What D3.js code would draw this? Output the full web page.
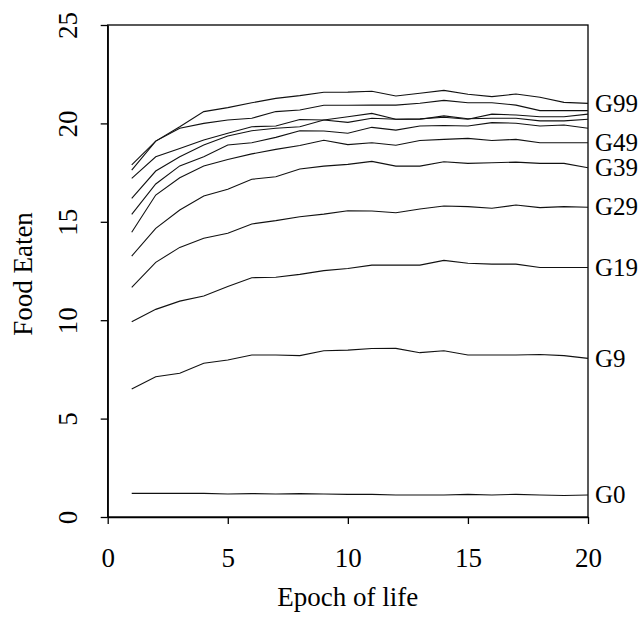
<!DOCTYPE html>
<html>
<head>
<meta charset="utf-8">
<script src="https://cdn.jsdelivr.net/npm/d3@7"></script>
<style>
  body { margin: 0; background: #fff; }
  text { font-family: "Liberation Serif", "DejaVu Serif", serif; fill: #000; }
</style>
</head>
<body>
<div id="chart"></div>
<script>
// epochs 1..20
var epochs = d3.range(1, 21);

var g0  = [1.2, 1.2, 1.2, 1.2, 1.17, 1.19, 1.17, 1.19, 1.17, 1.15, 1.15, 1.12, 1.12, 1.12, 1.15, 1.12, 1.15, 1.12, 1.09, 1.12];
var g9  = [6.5, 7.13, 7.3, 7.81, 7.98, 8.23, 8.23, 8.2, 8.45, 8.48, 8.56, 8.57, 8.35, 8.45, 8.23, 8.23, 8.23, 8.26, 8.2, 8.06];
var g19 = [9.92, 10.55, 10.97, 11.23, 11.71, 12.16, 12.18, 12.33, 12.52, 12.63, 12.8, 12.8, 12.8, 13.04, 12.89, 12.85, 12.85, 12.68, 12.68, 12.68];
var g29 = [11.67, 12.94, 13.7, 14.16, 14.42, 14.89, 15.06, 15.26, 15.39, 15.56, 15.55, 15.46, 15.65, 15.8, 15.77, 15.69, 15.85, 15.72, 15.77, 15.74];
var g39 = [13.26, 14.67, 15.6, 16.31, 16.65, 17.16, 17.29, 17.68, 17.83, 17.92, 18.07, 17.83, 17.83, 18.05, 17.97, 18.0, 18.03, 17.97, 17.97, 17.75];
var g49 = [14.47, 16.36, 17.24, 17.84, 18.17, 18.45, 18.68, 18.88, 19.14, 18.92, 19.02, 18.89, 19.13, 19.19, 19.24, 19.13, 19.19, 19.02, 19.02, 19.02];
var g59 = [15.38, 16.92, 17.84, 18.31, 18.9, 19.02, 19.29, 19.63, 19.61, 19.5, 19.8, 19.66, 19.87, 19.89, 19.87, 20.04, 20.01, 19.87, 19.92, 19.75];
var g69 = [16.19, 17.58, 18.31, 18.9, 19.36, 19.63, 19.75, 19.83, 20.17, 20.34, 20.51, 20.21, 20.21, 20.38, 20.24, 20.26, 20.26, 20.13, 20.13, 20.21];
var g79 = [17.21, 18.3, 18.73, 19.16, 19.5, 19.83, 19.87, 20.2, 20.17, 20.05, 20.26, 20.21, 20.23, 20.31, 20.21, 20.47, 20.43, 20.34, 20.34, 20.47];
var g89 = [17.63, 19.1, 19.75, 20.0, 20.17, 20.26, 20.6, 20.68, 20.92, 20.92, 20.93, 20.93, 21.02, 21.17, 21.05, 21.05, 20.93, 20.65, 20.65, 20.65];
var g99 = [17.89, 19.1, 19.83, 20.6, 20.8, 21.05, 21.27, 21.41, 21.58, 21.59, 21.63, 21.39, 21.53, 21.68, 21.48, 21.36, 21.49, 21.33, 21.07, 21.02];

var seriesNames = ["G0", "G9", "G19", "G29", "G39", "G49", "G59", "G69", "G79", "G89", "G99"];
var seriesValues = [g0, g9, g19, g29, g39, g49, g59, g69, g79, g89, g99];
var labelled = ["G0", "G9", "G19", "G29", "G39", "G49", "G99"];

var xTicks = [0, 5, 10, 15, 20];
var yTicks = [0, 5, 10, 15, 20, 25];

// set the dimensions and margins of the graph
var margin = {top: 25, right: 55, bottom: 100, left: 107.7},
    width = 643 - margin.left - margin.right,
    height = 617 - margin.top - margin.bottom;

var svg = d3.select("#chart")
  .append("svg")
  .attr("width", 643)
  .attr("height", 617)
  .append("g")
  .attr("transform", "translate(" + margin.left + "," + margin.top + ")");

var x = d3.scaleLinear().domain([0, 20]).range([0, width]);
var y = d3.scaleLinear().domain([0, 25]).range([height, 0]);

// box
svg.append("rect")
  .attr("x", 0).attr("y", 0)
  .attr("width", width).attr("height", height)
  .attr("fill", "none")
  .attr("stroke", "#000")
  .attr("stroke-width", 1.3);

// X axis
var xAxis = svg.append("g")
  .attr("transform", "translate(0," + height + ")")
  .call(d3.axisBottom(x).tickValues(xTicks).tickSize(7).tickSizeOuter(0));
xAxis.selectAll("text")
  .attr("y", 50)
  .attr("dy", null)
  .style("font-size", "27px");

// Y axis
var yAxis = svg.append("g")
  .call(d3.axisLeft(y).tickValues(yTicks).tickSize(7).tickSizeOuter(0));
yAxis.selectAll("text")
  .attr("x", null)
  .attr("dy", null)
  .attr("text-anchor", "middle")
  .attr("transform", "translate(-30.5,0) rotate(-90)")
  .style("font-size", "27px");

svg.selectAll(".domain, .tick line").attr("stroke", "#000").attr("stroke-width", 1.3);
svg.selectAll(".tick text").style("font-family", "'Liberation Serif', serif");

// axis titles
svg.append("text")
  .attr("x", width / 2)
  .attr("y", height + 89)
  .attr("text-anchor", "middle")
  .style("font-size", "27px")
  .text("Epoch of life");

svg.append("text")
  .attr("transform", "translate(-76," + (height / 2 + 3) + ") rotate(-90)")
  .attr("text-anchor", "middle")
  .style("font-size", "27px")
  .text("Food Eaten");

// lines
var line = d3.line()
  .x(function(d, i) { return x(epochs[i]); })
  .y(function(d) { return y(d); });

svg.selectAll(".series")
  .data(seriesValues)
  .enter()
  .append("path")
  .attr("class", "series")
  .attr("d", line)
  .attr("fill", "none")
  .attr("stroke", "#111")
  .attr("stroke-width", 1.1);

// end labels
seriesNames.forEach(function(name, i) {
  if (labelled.indexOf(name) < 0) return;
  var vals = seriesValues[i];
  svg.append("text")
    .attr("x", x(20) + 7)
    .attr("y", y(vals[vals.length - 1]))
    .attr("dy", "0.33em")
    .style("font-size", "25px")
    .text(name);
});
</script>
</body>
</html>
